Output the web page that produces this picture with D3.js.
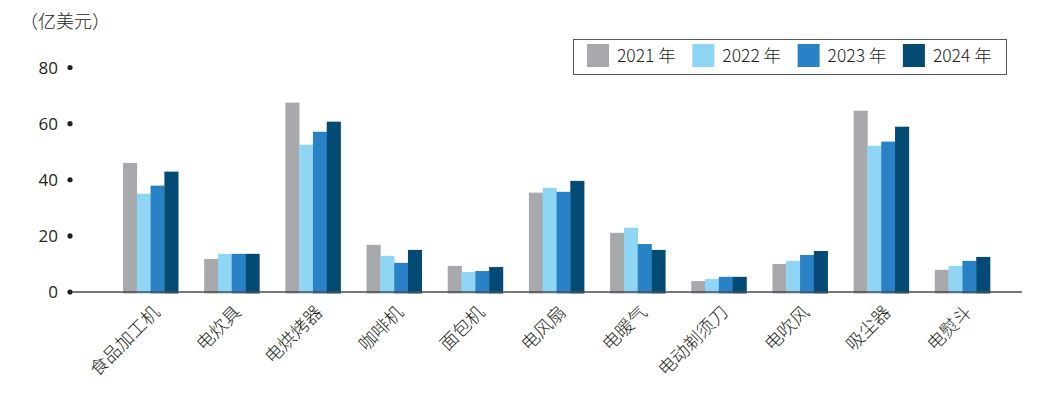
<!DOCTYPE html>
<html>
<head>
<meta charset="utf-8">
<script src="https://cdn.jsdelivr.net/npm/d3@7"></script>
<style>
  body { margin: 0; background: #fff; }
  svg text { font-family: "Noto Sans CJK SC", "Noto Sans", sans-serif; fill: #231f20; }
</style>
</head>
<body>
<div id="vis"></div>
<script>
var categories = ["食品加工机", "电炊具", "电烘烤器", "咖啡机", "面包机", "电风扇", "电暖气", "电动剃须刀", "电吹风", "吸尘器", "电熨斗"];
var years = ["2021 年", "2022 年", "2023 年", "2024 年"];
var v2021 = [46, 11.8, 67.5, 16.8, 9.3, 35.4, 21.1, 3.9, 10, 64.6, 7.9];
var v2022 = [35, 13.6, 52.5, 12.9, 7.1, 37.1, 22.9, 4.6, 11.1, 52.1, 9.3];
var v2023 = [37.9, 13.6, 57.1, 10.4, 7.5, 35.7, 17.1, 5.4, 13.2, 53.6, 11.1];
var v2024 = [42.9, 13.6, 60.7, 15, 8.9, 39.6, 15, 5.4, 14.6, 58.9, 12.5];
var yTicks = [0, 20, 40, 60, 80];
var colors = ["#a7a9ac", "#8fd6f5", "#2a82c6", "#034a75"];

var series = [v2021, v2022, v2023, v2024];
var data = categories.map(function(c, i) {
    return { name: c, values: series.map(function(s) { return s[i]; }) };
});

var width = 1047, height = 393;

var svg = d3.select("#vis").append("svg")
    .attr("width", width)
    .attr("height", height);

var xScale = d3.scaleBand()
    .domain(categories)
    .range([110, 1003])
    .paddingInner(0.32)
    .paddingOuter(0.16);

var xSub = d3.scaleBand()
    .domain(d3.range(years.length))
    .range([0, xScale.bandwidth()]);

var yScale = d3.scaleLinear()
    .domain([0, 80])
    .range([292, 67.5]);

// y axis: dots and numbers, no line
var yAxis = svg.append("g").attr("class", "yAxis");
yAxis.selectAll("circle")
    .data(yTicks)
    .enter().append("circle")
    .attr("cx", 70)
    .attr("cy", function(d) { return yScale(d); })
    .attr("r", 2.6)
    .attr("fill", "#231f20");
yAxis.selectAll("text")
    .data(yTicks)
    .enter().append("text")
    .attr("x", 58)
    .attr("y", function(d) { return yScale(d); })
    .attr("dy", "0.36em")
    .attr("text-anchor", "end")
    .style("font-family", "'Open Sans', sans-serif")
    .style("font-size", "17px")
    .text(function(d) { return d; });

// bars
var groups = svg.selectAll(".group")
    .data(data)
    .enter().append("g")
    .attr("class", "group")
    .attr("transform", function(d) { return "translate(" + xScale(d.name) + ",0)"; });

groups.selectAll("rect")
    .data(function(d) { return d.values; })
    .enter().append("rect")
    .attr("x", function(d, i) { return xSub(i); })
    .attr("y", function(d) { return yScale(d); })
    .attr("width", xSub.bandwidth() + 0.3)
    .attr("height", function(d) { return yScale(0) - yScale(d) + 1.5; })
    .attr("fill", function(d, i) { return colors[i]; });

// baseline
svg.append("line")
    .attr("x1", 72)
    .attr("x2", 1022)
    .attr("y1", yScale(0))
    .attr("y2", yScale(0))
    .attr("stroke", "#4d4d4f")
    .attr("stroke-width", 1.4);

// x labels, rotated
svg.append("g").attr("class", "xAxis")
    .selectAll("text")
    .data(categories)
    .enter().append("text")
    .attr("transform", function(d) {
        var cx = xScale(d) + xScale.bandwidth() / 2 + 6;
        return "translate(" + cx + ",309) rotate(-45)";
    })
    .attr("text-anchor", "end")
    .attr("dy", "0.35em")
    .style("font-size", "18px")
    .style("font-weight", 300)
    .text(function(d) { return d; });

// unit title
svg.append("text")
    .attr("x", 20)
    .attr("y", 22)
    .attr("dy", "0.35em")
    .style("font-size", "18px")
    .style("font-weight", 300)
    .text("（亿美元）");

// legend
var legend = svg.append("g").attr("class", "legend");
legend.append("rect")
    .attr("x", 573.5)
    .attr("y", 39.5)
    .attr("width", 433)
    .attr("height", 35)
    .attr("fill", "none")
    .attr("stroke", "#555")
    .attr("stroke-width", 1);

var items = legend.selectAll(".item")
    .data(years)
    .enter().append("g")
    .attr("class", "item")
    .attr("transform", function(d, i) { return "translate(" + (587 + i * 105.3) + ",44)"; });
items.append("rect")
    .attr("width", 22)
    .attr("height", 23)
    .attr("fill", function(d, i) { return colors[i]; });
items.append("text")
    .attr("x", 30)
    .attr("y", 11.5)
    .attr("dy", "0.36em")
    .style("font-size", "17.5px")
    .style("font-weight", 300)
    .text(function(d) { return d; });
</script>
</body>
</html>
